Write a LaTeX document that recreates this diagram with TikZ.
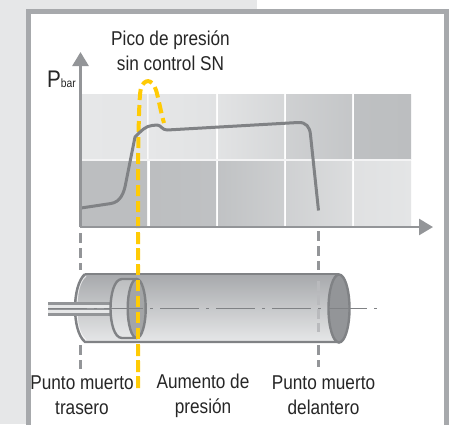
\documentclass[tikz,border=0pt]{standalone}
\usepackage{fontspec}
\setmainfont[FakeStretch=0.86]{Liberation Sans}
\usetikzlibrary{arrows.meta}
\definecolor{pale}{HTML}{E6E7E8}
\definecolor{frame}{HTML}{A7A9AC}
\definecolor{mid}{HTML}{BCBEC0}
\definecolor{ax}{HTML}{939598}
\definecolor{curve}{HTML}{808285}
\definecolor{gold}{HTML}{FFCB05}
\tikzset{
  lbl/.style={font=\fontsize{20}{25}\selectfont,text=black!85,align=center,inner sep=0pt},
  axisline/.style={draw=ax,line width=2.6pt,-{Triangle[length=14pt,width=16pt]}},
  stopline/.style={draw=ax,line width=3pt,dash pattern=on 10pt off 5pt},
  goldline/.style={draw=gold,line width=4pt,dash pattern=on 11pt off 5pt},
  cyl/.style={draw=curve,line width=2.4pt},
}
\begin{document}
\begin{tikzpicture}[x=1pt,y=-1pt]
\useasboundingbox (0,0) rectangle (462,424);
\fill[pale] (0,0) rectangle (257,424);
\fill[white] (257,0) rectangle (462,424);
\draw[frame,line width=5pt,fill=white] (28.5,11.5) rectangle (446.5,430);
% chart background
\shade[left color=pale,right color=pale!96!mid] (82,94) rectangle (147,159);
\shade[left color=pale,right color=pale!88!mid] (149,94) rectangle (216,159);
\shade[left color=pale!90!mid,right color=pale!60!mid] (218,94) rectangle (284,159);
\shade[left color=pale!45!mid,right color=pale!20!mid] (286,94) rectangle (352,159);
\shade[left color=pale!5!mid,right color=mid] (354,94) rectangle (411,159);
\fill[pale!50!white] (82,159) rectangle (411,161);
\fill[pale!50!white] (148,94) rectangle (149,159);
\shade[left color=mid,right color=mid] (82,161) rectangle (147,225);
\shade[left color=mid,right color=mid!92!pale] (150,161) rectangle (216,225);
\shade[left color=mid!90!pale,right color=mid!60!pale] (218,161) rectangle (284,225);
\shade[left color=mid!55!pale,right color=mid!25!pale] (286,161) rectangle (352,225);
\shade[left color=mid!15!pale,right color=mid!5!pale] (354,161) rectangle (411,225);
% gold curve
\draw[goldline] (138,388) -- (138,170) .. controls (138.5,130) and (139,95) .. (141,88)
  .. controls (144,79) and (152,78) .. (156,90) .. controls (158,96) and (161,113) .. (164,123);
% pressure curve
\draw[draw=curve,line width=3pt,line join=round] (81,208) -- (111,203.5)
  .. controls (120,202) and (124,194) .. (126,182) -- (135,137)
  .. controls (142,130) and (146,126) .. (152,125.5) -- (157,125)
  .. controls (161,125) and (162,130) .. (167,130) -- (298,122.5)
  .. controls (306,122) and (310,127) .. (310.5,135) -- (318.5,210.5);
% axes
\coordinate (o) at (80.5,227);
\coordinate (ytip) at (80.5,52);
\coordinate (xtip) at (433,227);
\draw[axisline] (o) -- (ytip);
\draw[axisline] (79.5,227) -- (xtip);
% stop lines above
\coordinate (a1) at (80.5,233); \coordinate (a2) at (80.5,270);
\coordinate (b1) at (318,231); \coordinate (b2) at (318,270);
\draw[stopline] (a1) -- (a2);
\draw[stopline] (b1) -- (b2);
% cylinder
\shade[top color=frame,bottom color=pale] (85,274) .. controls (78,280) and (75,295) .. (75,308)
  .. controls (75,322) and (78,336) .. (85,342) -- (339,342) -- (339,274) -- cycle;
\draw[white,line width=1pt,opacity=.7] (86,276) .. controls (79,282) and (77,295) .. (77,308)
  .. controls (77,322) and (79,334) .. (86,340);
\draw[cyl] (85,274) .. controls (78,280) and (75,295) .. (75,308)
  .. controls (75,322) and (78,336) .. (85,342) -- (339,342);
\draw[cyl] (85,274) -- (339,274);
% rod
\fill[ax] (48,302) rectangle (111,316);
\fill[pale] (48,305) rectangle (111,307.5);
\fill[pale] (48,310) rectangle (111,313);
% piston
\shade[top color=mid,bottom color=pale] (137,279) -- (122,279) .. controls (114,279) and (110.5,295) .. (110.5,308.5)
  .. controls (110.5,322) and (114,338) .. (122,338) -- (137,338) -- cycle;
\draw[cyl] (137,279) -- (122,279) .. controls (114,279) and (110.5,295) .. (110.5,308.5)
  .. controls (110.5,322) and (114,338) .. (122,338) -- (137,338);
\draw[cyl,fill=ax!85!white] (136.7,308.5) ellipse [x radius=9,y radius=29.5];
% hidden stop line
\draw[draw=frame!80!white,line width=3pt,dash pattern=on 10pt off 4pt] (318,281) -- (318,332);
% front end
\draw[cyl,fill=ax] (339,308.5) ellipse [x radius=10.5,y radius=34];
% center line
\draw[draw=curve,line width=.9pt,dash pattern=on 39pt off 7pt on 3pt off 7pt] (48,308.5) -- (378,308.5);
% gold, stop lines below
\draw[stopline] (80.5,345) -- (80.5,369);
\draw[stopline] (318,345) -- (318,367);
\draw[goldline] (138,232) -- (138,388);
% labels
\node[lbl] (peak) at (170.5,50.5) {Pico de presión\\sin control SN};
\node[lbl,anchor=base west] (pbar) at (47,87) {\fontsize{24}{24}\selectfont P\raisebox{-0.5pt}{\fontsize{12}{12}\selectfont bar}};
\node[lbl] (back) at (82,395.5) {Punto muerto\\trasero};
\node[lbl] (rise) at (203,395.5) {Aumento de\\presión};
\node[lbl] (front) at (323.5,395.5) {Punto muerto\\delantero};
\end{tikzpicture}
\end{document}
